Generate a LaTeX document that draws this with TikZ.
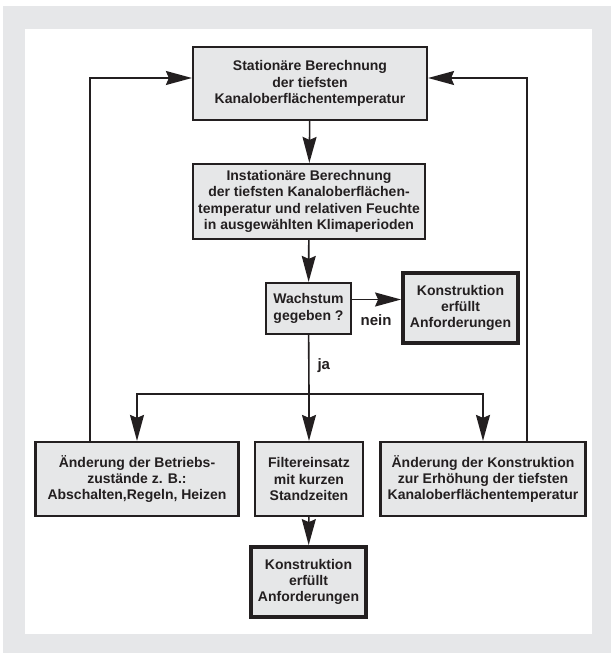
\documentclass[tikz,border=0pt]{standalone}
\usepackage{fontspec}
\setmainfont{Liberation Sans}
\usetikzlibrary{arrows.meta}
\definecolor{boxgray}{RGB}{230,231,232}
\definecolor{framegray}{RGB}{230,231,233}
\definecolor{ink}{RGB}{35,31,32}
\tikzset{
  stepbox/.style={draw=ink, line width=2.2pt, fill=boxgray, align=center, inner sep=0pt,
    text=ink, font=\fontsize{14}{16.2}\selectfont\bfseries},
  goalbox/.style={stepbox, line width=3.8pt, minimum width=115pt, minimum height=70pt},
  flow/.style={draw=ink, line width=1.6pt},
  arr/.style={flow, -{Stealth[length=26pt, width=14pt, inset=3pt]}},
  lbl/.style={text=ink, font=\fontsize{15}{17}\selectfont\bfseries},
}
\begin{document}
\begin{tikzpicture}[x=1pt, y=-1pt]
    \useasboundingbox (0,0) rectangle (611,653);
    % frame
    \fill[framegray] (3,6) rectangle (611,653);
    \fill[white] (25,29) rectangle (592,634);
    % boxes
    \node[stepbox, minimum width=234pt, minimum height=73pt] (stat) at (310,83.5)
        {Stationäre Berechnung\\der tiefsten\\Kanaloberflächentemperatur};
    \node[stepbox, minimum width=232pt, minimum height=75pt] (instat) at (309,201.5)
        {Instationäre Berechnung\\der tiefsten Kanaloberflächen-\\temperatur und relativen Feuchte\\in ausgewählten Klimaperioden};
    \node[stepbox, minimum width=85pt, minimum height=51pt] (wachs) at (308.5,308.5)
        {Wachstum\\gegeben ?};
    \node[goalbox] (okA) at (460.5,308) {Konstruktion\\erfüllt\\Anforderungen};
    \node[stepbox, minimum width=203pt, minimum height=74pt] (betrieb) at (137,479)
        {Änderung der Betriebs-\\zustände z. B.:\\Abschalten,Regeln, Heizen};
    \node[stepbox, minimum width=108pt, minimum height=74pt] (filter) at (309,479)
        {Filtereinsatz\\mit kurzen\\Standzeiten};
    \node[stepbox, minimum width=205pt, minimum height=74pt] (konstr) at (483,479)
        {Änderung der Konstruktion\\zur Erhöhung der tiefsten\\Kanaloberflächentemperatur};
    \node[goalbox] (okB) at (308.5,582) {Konstruktion\\erfüllt\\Anforderungen};
    % labels
    \node[lbl] (nein) at (376,320) {nein};
    \node[lbl, anchor=west] (ja) at (314,366) {ja};
    % arrows
    \coordinate (split) at (309,394);
    \coordinate (backL) at (90,78);
    \coordinate (backR) at (527,78);
    \draw[arr] (stat) -- (instat);
    \draw[arr] (instat) -- (wachs);
    \draw[arr] ([yshift=9pt]wachs.east) -- ([yshift=9pt]wachs.east -| okA.west);
    \draw[flow] (wachs) -- (split);
    \draw[arr] (split) -- (filter);
    \draw[arr] (split) -| (betrieb.north);
    \draw[arr] (split) -| (konstr.north);
    \draw[arr] (filter) -- (okB);
    \draw[arr] (backL |- betrieb.north) -- (backL) -- (backL -| stat.west);
    \draw[arr] (backR |- konstr.north) -- (backR) -- (backR -| stat.east);
\end{tikzpicture}
\end{document}
